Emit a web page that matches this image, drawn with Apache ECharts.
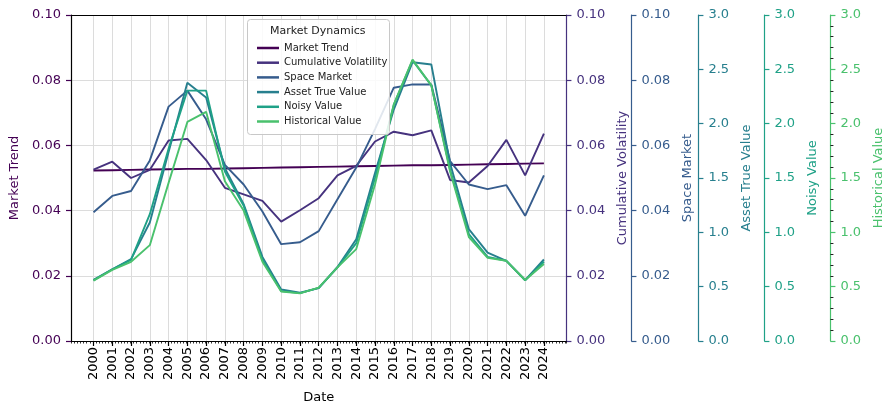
<!DOCTYPE html>
<html>
<head>
<meta charset="utf-8">
<script src="https://cdn.jsdelivr.net/npm/echarts@6/dist/echarts.min.js"></script>
<style>html,body{margin:0;padding:0;background:#fff}#c{width:893px;height:416px}</style>
</head>
<body>
<div id="c"></div>
<script>
var years = [2000,2001,2002,2003,2004,2005,2006,2007,2008,2009,2010,2011,2012,2013,2014,2015,2016,2017,2018,2019,2020,2021,2022,2023,2024];
var marketTrend = [0.0523,0.0524,0.0525,0.0526,0.0527,0.0528,0.0528,0.0529,0.0530,0.0531,0.0532,0.0533,0.0534,0.0535,0.0536,0.0537,0.0538,0.0539,0.0539,0.0540,0.0541,0.0542,0.0543,0.0544,0.0545];
var cumulativeVolatility = [0.0526,0.0550,0.0500,0.0525,0.0615,0.0620,0.0555,0.0470,0.0450,0.0430,0.0366,0.0401,0.0438,0.0508,0.0537,0.0612,0.0642,0.0631,0.0646,0.0494,0.0486,0.0537,0.0617,0.0508,0.0636];
var spaceMarket = [0.0395,0.0445,0.0460,0.0554,0.0719,0.0768,0.0680,0.0540,0.0480,0.0397,0.0297,0.0303,0.0337,0.0435,0.0532,0.0650,0.0777,0.0787,0.0787,0.0552,0.0480,0.0466,0.0478,0.0384,0.0508];
var assetTrueValue = [0.563,0.660,0.753,1.090,1.740,2.376,2.240,1.590,1.260,0.774,0.474,0.444,0.486,0.681,0.936,1.545,2.130,2.565,2.544,1.635,1.029,0.813,0.738,0.561,0.750];
var noisyValue = [0.558,0.660,0.747,1.167,1.770,2.304,2.304,1.560,1.245,0.750,0.459,0.441,0.489,0.678,0.900,1.500,2.175,2.583,2.352,1.575,0.984,0.774,0.738,0.558,0.729];
var historicalValue = [0.555,0.654,0.729,0.882,1.455,2.016,2.109,1.470,1.200,0.729,0.456,0.438,0.492,0.678,0.846,1.440,2.175,2.589,2.352,1.560,0.957,0.765,0.738,0.561,0.708];
var seriesNames = ['Market Trend','Cumulative Volatility','Space Market','Asset True Value','Noisy Value','Historical Value'];
var colors = ['#440154','#46327e','#365c8d','#277f8e','#1fa187','#4ac16d'];
var seriesData = [marketTrend, cumulativeVolatility, spaceMarket, assetTrueValue, noisyValue, historicalValue];

var FONT = 'DejaVu Sans';
function f2(v){return v.toFixed(2);}
function f1(v){return v.toFixed(1);}
function mkY(i, opts) {
  var c = colors[i];
  var base = {
    type: 'value', min: 0, name: seriesNames[i], nameLocation: 'middle', nameRotate: 90,
    nameTextStyle: {color: c, fontSize: 13, fontFamily: FONT},
    axisLine: {show: true, lineStyle: {color: c, width: 1.2}},
    axisTick: {show: true, length: 5, lineStyle: {color: c, width: 1.2}},
    axisLabel: {color: c, fontSize: 13, fontFamily: FONT, margin: 10},
    splitLine: {show: false}
  };
  for (var k in opts) base[k] = opts[k];
  return base;
}
var yAxes = [
  mkY(0, {position: 'left', max: 0.1, interval: 0.02, nameGap: 49,
    axisLine: {show: true, lineStyle: {color: '#000', width: 1.2}},
    axisLabel: {color: colors[0], fontSize: 13, fontFamily: FONT, margin: 10, formatter: f2},
    splitLine: {show: true, lineStyle: {color: '#dcdcdc', width: 1}}}),
  mkY(1, {position: 'right', offset: 0, max: 0.1, interval: 0.02, nameGap: 45,
    axisLabel: {color: colors[1], fontSize: 13, fontFamily: FONT, margin: 10, formatter: f2}}),
  mkY(2, {position: 'right', offset: 65, max: 0.1, interval: 0.02, nameGap: 47,
    axisLabel: {color: colors[2], fontSize: 13, fontFamily: FONT, margin: 10, formatter: f2}}),
  mkY(3, {position: 'right', offset: 132, max: 3, interval: 0.5, nameGap: 38,
    axisLabel: {color: colors[3], fontSize: 13, fontFamily: FONT, margin: 10, formatter: f1}}),
  mkY(4, {position: 'right', offset: 198, max: 3, interval: 0.5, nameGap: 38,
    axisLabel: {color: colors[4], fontSize: 13, fontFamily: FONT, margin: 10, formatter: f1}}),
  mkY(5, {position: 'right', offset: 264, max: 3, interval: 0.5, nameGap: 38,
    minorTick: {show: true, splitNumber: 5, length: 3, lineStyle: {color: '#222', width: 1}},
    axisLabel: {color: colors[5], fontSize: 13, fontFamily: FONT, margin: 10, formatter: f1}})
];

var series = seriesData.map(function(arr, i){
  return {
    name: seriesNames[i], type: 'line', xAxisIndex: 0, yAxisIndex: i,
    data: years.map(function(y, j){ return [y, arr[j]]; }),
    showSymbol: false, symbol: 'none', color: colors[i],
    lineStyle: {width: 1.9, color: colors[i]}, z: 3 + i, animation: false
  };
});

var chart = echarts.init(document.getElementById('c'), null, {renderer: 'canvas'});
chart.setOption({
  animation: false,
  backgroundColor: '#fff',
  grid: {left: 71, right: 325, top: 15, bottom: 75, show: false},
  xAxis: [
    {type: 'value', min: 1998.8, max: 2025.2, position: 'bottom',
     name: 'Date', nameLocation: 'middle', nameGap: 50, nameTextStyle: {color: '#000', fontSize: 13, fontFamily: FONT},
     axisLine: {show: true, onZero: false, lineStyle: {color: '#000', width: 1.2}},
     axisTick: {show: true, length: 5, customValues: years, lineStyle: {color: '#000', width: 1.2}},
     axisLabel: {show: true, rotate: 90, customValues: years, color: '#000', fontSize: 13, fontFamily: FONT, margin: 6, formatter: function(v){return String(Math.round(v));}},
     splitLine: {show: true, lineStyle: {color: '#dcdcdc', width: 1}}},
    {type: 'value', min: 11992.8, max: 12151.2, interval: 1, position: 'bottom',
     axisLine: {show: false, onZero: false}, axisLabel: {show: false},
     axisTick: {show: true, length: 2.5, lineStyle: {color: '#000', width: 0.8}},
     splitLine: {show: false}},
    {type: 'value', min: 1998.8, max: 2025.2, position: 'top',
     axisLine: {show: true, onZero: false, lineStyle: {color: '#000', width: 1.2}},
     axisTick: {show: false}, axisLabel: {show: false}, splitLine: {show: false}}
  ],
  yAxis: yAxes,
  legend: {
    orient: 'vertical', left: 252, top: 38, icon: 'rect', itemWidth: 22, itemHeight: 2.5, itemGap: 4.7,
    textStyle: {fontSize: 10, fontFamily: FONT, color: '#222'},
    data: seriesNames, z: 60
  },
  graphic: [
    {type: 'rect', left: 247, top: 19, shape: {width: 142, height: 115, r: 3}, style: {fill: 'rgba(255,255,255,0.85)', stroke: '#c8c8c8', lineWidth: 1}, z: 50},
    {type: 'text', left: 270, top: 26, style: {text: 'Market Dynamics', fontSize: 11, fontFamily: FONT, fill: '#222'}, z: 51}
  ],
  series: series
});
</script>
</body>
</html>
